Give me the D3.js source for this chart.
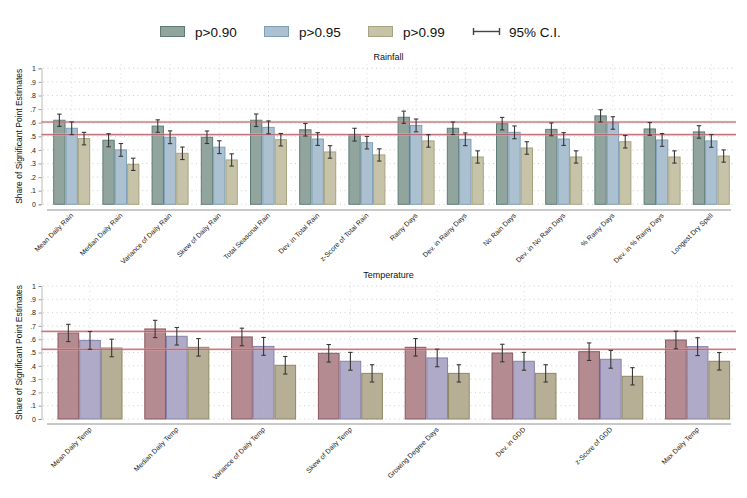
<!DOCTYPE html>
<html><head><meta charset="utf-8">
<script src="https://cdn.jsdelivr.net/npm/d3@7"></script>
<style>body{margin:0;background:#fff}svg{display:block;font-family:"Liberation Sans",Arial,sans-serif}</style>
</head><body><svg id="c" width="747" height="498"></svg>
<script>
const seriesNames = ["p>0.90","p>0.95","p>0.99"];
const yTickVals = [0,0.1,0.2,0.3,0.4,0.5,0.6,0.7,0.8,0.9,1];
const yTickLabels = ["0",".1",".2",".3",".4",".5",".6",".7",".8",".9","1"];

const rainCats = ["Mean Daily Rain","Median Daily Rain","Variance of Daily Rain","Skew of Daily Rain","Total Seasonal Rain","Dev. in Total Rain","z-Score of Total Rain","Rainy Days","Dev. in Rainy Days","No Rain Days","Dev. in No Rain Days","% Rainy Days","Dev. in % Rainy Days","Longest Dry Spell"];
const rain90 = [0.618,0.471,0.575,0.493,0.618,0.548,0.512,0.640,0.559,0.593,0.551,0.650,0.554,0.532];
const rain95 = [0.559,0.400,0.493,0.420,0.566,0.480,0.453,0.580,0.478,0.529,0.480,0.598,0.473,0.466];
const rain99 = [0.483,0.294,0.375,0.326,0.475,0.385,0.363,0.466,0.348,0.414,0.348,0.460,0.348,0.355];
const rainErr90 = [0.045,0.048,0.046,0.046,0.046,0.046,0.047,0.045,0.046,0.046,0.047,0.045,0.047,0.046];
const rainErr95 = [0.047,0.047,0.047,0.047,0.047,0.047,0.046,0.047,0.047,0.047,0.047,0.046,0.047,0.047];
const rainErr99 = [0.046,0.045,0.046,0.045,0.046,0.046,0.045,0.046,0.045,0.046,0.045,0.046,0.045,0.045];
const rainRef = [0.605,0.512];

const tempCats = ["Mean Daily Temp","Median Daily Temp","Variance of Daily Temp","Skew of Daily Temp","Growing Degree Days","Dev. in GDD","z-Score of GDD","Max Daily Temp"];
const temp90 = [0.647,0.677,0.617,0.494,0.539,0.496,0.506,0.594];
const temp95 = [0.591,0.622,0.546,0.434,0.459,0.434,0.449,0.544];
const temp99 = [0.534,0.539,0.404,0.343,0.343,0.343,0.321,0.434];
const tempErr90 = [0.065,0.065,0.066,0.066,0.066,0.066,0.066,0.066];
const tempErr95 = [0.067,0.066,0.067,0.067,0.066,0.067,0.067,0.067];
const tempErr99 = [0.066,0.066,0.066,0.065,0.065,0.065,0.065,0.066];
const tempRef = [0.659,0.524];

const svg = d3.select("#c");

// Legend
const legFill = ["#91a59e","#abc0d0","#c6c3a9"];
const legStroke = ["#5e7c76","#7f9fb7","#a8a47f"];
const legX = [160,264,368];
seriesNames.forEach((s,i)=>{
  svg.append("rect").attr("x",legX[i]+0.5).attr("y",26.5).attr("width",24).attr("height",10)
    .attr("fill",legFill[i]).attr("stroke",legStroke[i]).attr("stroke-width",1);
  svg.append("text").attr("x",legX[i]+35).attr("y",36.5).attr("font-size",13.5).attr("fill","#111").text(s);
});
const ciG = svg.append("g").attr("stroke","#444").attr("stroke-width",1.4);
ciG.append("line").attr("x1",473).attr("x2",500).attr("y1",31.5).attr("y2",31.5);
ciG.append("line").attr("x1",473.5).attr("x2",473.5).attr("y1",28).attr("y2",35);
ciG.append("line").attr("x1",499.5).attr("x2",499.5).attr("y1",28).attr("y2",35);
svg.append("text").attr("x",509).attr("y",36.5).attr("font-size",13.5).attr("fill","#111").text("95% C.I.");

function panel(cfg){
  const g = svg.append("g");
  const y = d3.scaleLinear().domain([0,1]).range([cfg.y0,cfg.y1]);
  const x = d3.scaleBand().domain(cfg.cats).range(cfg.xr).paddingInner(cfg.pi).paddingOuter(cfg.po);
  const xs = d3.scaleBand().domain([0,1,2]).range([0,x.bandwidth()]);
  g.append("text").attr("x",388.5).attr("y",cfg.y1-8.5).attr("text-anchor","middle").attr("font-size",9).attr("fill","#111").text(cfg.title);
  g.append("text").attr("transform",`translate(22,${(cfg.y0+cfg.y1)/2}) rotate(-90)`).attr("text-anchor","middle")
    .attr("font-size",8.5).attr("fill","#111").text("Share of Significant Point Estimates");
  g.append("g").selectAll("line").data(yTickVals).join("line")
    .attr("x1",43).attr("x2",736).attr("y1",d=>y(d)).attr("y2",d=>y(d))
    .attr("stroke","#c4c4c4").attr("stroke-width",0.8).attr("stroke-dasharray","1,3.5");
  const ya = d3.axisLeft(y).tickValues(yTickVals).tickFormat((d,i)=>yTickLabels[i]).tickSize(3).tickPadding(2.5);
  const ag = g.append("g").attr("transform","translate(41.5,0)").call(ya);
  ag.select(".domain").attr("stroke","#aaa").attr("stroke-width",0.8);
  ag.selectAll(".tick line").attr("stroke","#888").attr("stroke-width",0.8);
  ag.selectAll(".tick text").attr("font-size",7).attr("fill","#222").attr("font-family","Liberation Sans, Arial, sans-serif");
  const vals = [cfg.v90,cfg.v95,cfg.v99];
  const errs = [cfg.e90,cfg.e95,cfg.e99];
  vals.forEach((arr,s)=>{
    g.append("g").selectAll("rect").data(arr).join("rect")
      .attr("x",(d,i)=>x(cfg.cats[i])+xs(s)+0.5).attr("width",xs.bandwidth()-1)
      .attr("y",d=>y(d)).attr("height",d=>y(0)-y(d))
      .attr("fill",cfg.fill[s]).attr("stroke",cfg.stroke[s]).attr("stroke-width",1);
  });
  g.append("g").selectAll("line").data(cfg.cats).join("line")
    .attr("x1",d=>x(d)+x.bandwidth()/2).attr("x2",d=>x(d)+x.bandwidth()/2)
    .attr("y1",cfg.y1-4).attr("y2",cfg.y0)
    .attr("stroke","#bbb").attr("stroke-opacity",0.7).attr("stroke-width",0.8).attr("stroke-dasharray","1,3.5");
  cfg.ref.forEach(r=>{
    g.append("line").attr("x1",41.5).attr("x2",736).attr("y1",y(r)).attr("y2",y(r))
      .attr("stroke","#e6b5b8").attr("stroke-opacity",0.55).attr("stroke-width",2.6);
    g.append("line").attr("x1",41.5).attr("x2",736).attr("y1",y(r)).attr("y2",y(r))
      .attr("stroke","#b04a55").attr("stroke-opacity",0.8).attr("stroke-width",1);
  });
  vals.forEach((arr,s)=>{
    const eg = g.append("g").attr("stroke","#383838").attr("stroke-width",1.1);
    arr.forEach((v,i)=>{
      const cx = x(cfg.cats[i])+xs(s)+xs.bandwidth()/2;
      const lo = y(v-errs[s][i]), hi = y(v+errs[s][i]);
      eg.append("line").attr("x1",cx).attr("x2",cx).attr("y1",lo).attr("y2",hi);
      eg.append("line").attr("x1",cx-2.2).attr("x2",cx+2.2).attr("y1",lo).attr("y2",lo);
      eg.append("line").attr("x1",cx-2.2).attr("x2",cx+2.2).attr("y1",hi).attr("y2",hi);
    });
  });
  g.append("line").attr("x1",47).attr("x2",731).attr("y1",cfg.axisY).attr("y2",cfg.axisY)
    .attr("stroke","#c9c9c9").attr("stroke-width",2);
  g.append("g").selectAll("text").data(cfg.cats).join("text")
    .attr("transform",d=>`translate(${x(d)+x.bandwidth()/2+2},${cfg.axisY+6}) rotate(-45)`)
    .attr("text-anchor","end").attr("font-size",7).attr("fill","#222").text(d=>d);
}

panel({title:"Rainfall",cats:rainCats,v90:rain90,v95:rain95,v99:rain99,e90:rainErr90,e95:rainErr95,e99:rainErr99,ref:rainRef,
  y0:204.3,y1:68.3,axisY:210,xr:[47,736],pi:0.248,po:0.126,
  fill:["#91a59e","#abc0d0","#c6c3a9"],stroke:["#5e7c76","#7f9fb7","#a8a47f"]});
panel({title:"Temperature",cats:tempCats,v90:temp90,v95:temp95,v99:temp99,e90:tempErr90,e95:tempErr95,e99:tempErr99,ref:tempRef,
  y0:419,y1:286,axisY:424,xr:[47,740.6],pi:0.251,po:0.121,
  fill:["#b48b90","#aeaac8","#b6ae95"],stroke:["#8a5862","#8782aa","#8f8762"]});
</script></body></html>
